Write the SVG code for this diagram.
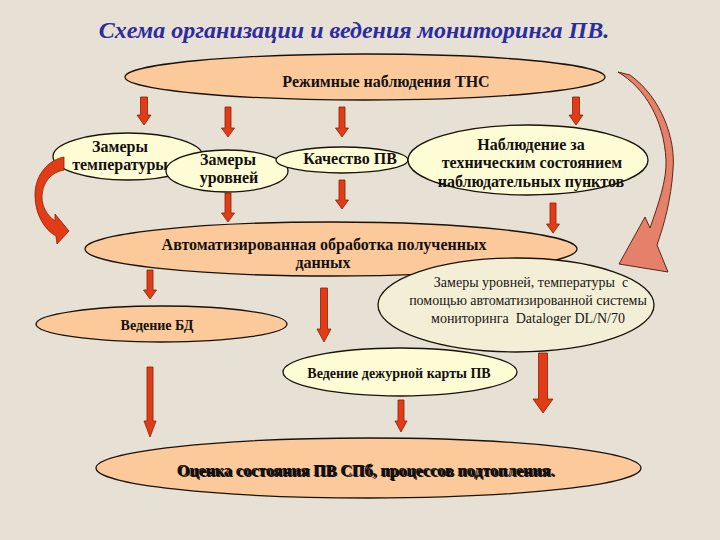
<svg xmlns="http://www.w3.org/2000/svg" width="720" height="540" viewBox="0 0 720 540">
<style>
.peach{fill:#fcc99a;stroke:#1a1208;stroke-width:1.3}
.yel{fill:#fdfcd4;stroke:#1a1208;stroke-width:1.3}
.beige{fill:#f3efd6;stroke:#1a1208;stroke-width:1.3}
.t{font-family:"Liberation Serif","Times New Roman",serif;font-weight:bold;font-size:16px;fill:#141010;text-anchor:middle}
.s{font-size:14px}
.r{font-family:"Liberation Serif","Times New Roman",serif;font-size:14px;fill:#1a1614;text-anchor:middle;white-space:pre}
.arr{fill:#e23c16;stroke:#8a2008;stroke-width:0.8}
</style>
<rect width="720" height="540" fill="#e7e0d5"/>
<text x="354" y="38" font-family="Liberation Serif, serif" font-weight="bold" font-style="italic" font-size="24" fill="#2c2ca0" text-anchor="middle">Схема организации и ведения мониторинга ПВ.</text>

<g id="n-rezhim"><ellipse class="peach" cx="365" cy="77" rx="240" ry="23"/><text class="t" x="386" y="87">Режимные наблюдения ТНС</text></g>
<g id="n-temp"><ellipse class="yel" cx="128" cy="156.5" rx="75" ry="23.5"/><text class="t" x="120" y="152">Замеры</text><text class="t" x="120" y="170">температуры</text></g>
<g id="n-urov"><ellipse class="yel" cx="227" cy="171" rx="61" ry="21"/><text class="t" x="228" y="165">Замеры</text><text class="t" x="229" y="183">уровней</text></g>
<g id="n-kach"><ellipse class="yel" cx="342" cy="160" rx="66" ry="13"/><text class="t" x="350" y="164">Качество ПВ</text></g>
<g id="n-nabl"><ellipse class="yel" cx="528" cy="160" rx="120" ry="35"/><text class="t" x="531" y="150">Наблюдение за</text><text class="t" x="532" y="168">техническим состоянием</text><text class="t" x="531" y="187">наблюдательных пунктов</text></g>
<g id="n-auto"><ellipse class="peach" cx="331" cy="249" rx="246" ry="27"/><text class="t" x="324" y="250">Автоматизированная обработка полученных</text><text class="t" x="323" y="268">данных</text></g>

<g id="connectors">
<path class="arr" d="M64,157 C48,160 35,175 35,195 C35,215 45,230 56,236 L57,244 L69,231 L55,214 L55,221 C47,215 42,207 42,197 C42,183 51,172 64,170 Z" fill="#d83010"/>
<path d="M618,72 L630,75 C662,98 676,140 673,170 C671,200 664,225 657,245 L668,272 L619,264 L645,217 L650,228 C658,205 667,180 666,160 C664,120 645,88 618,72 Z" fill="#e5806a" stroke="#4a1a0a" stroke-width="0.9"/>
<path class="arr" d="M140.5,97 H147.5 V115 H151 L144,125 L137,115 H140.5 Z"/>
<path class="arr" d="M225,107 H231 V128 H234.5 L228,137 L221.5,128 H225 Z"/>
<path class="arr" d="M339,107 H345 V128 H348.5 L342,137 L335.5,128 H339 Z"/>
<path class="arr" d="M572.5,97 H579.5 V115 H583 L576,125 L569,115 H572.5 Z"/>
<path class="arr" d="M225,193 H231 V213 H234.5 L228,222 L221.5,213 H225 Z"/>
<path class="arr" d="M339,180 H345 V200 H348.5 L342,209 L335.5,200 H339 Z"/>
<path class="arr" d="M550,203 H556 V224 H559.5 L553,233 L546.5,224 H550 Z"/>
<path class="arr" d="M147,270 H153 V290 H156.5 L150,299 L143.5,290 H147 Z"/>
<path class="arr" d="M320.5,288 H327.5 V329 H331 L324,342 L317,329 H320.5 Z"/>
<path class="arr" d="M147,367 H153 V421 H156 L150,437 L144,421 H147 Z"/>
<path class="arr" d="M398,400 H404 V421 H407 L401,432 L395,421 H398 Z"/>
<path class="arr" d="M538.5,353 H547.5 V399 H553 L543,413 L533,399 H538.5 Z"/>
</g>

<g id="n-datalog"><ellipse class="beige" cx="516" cy="305" rx="138" ry="47"/><text class="r" x="531" y="287">Замеры уровней, температуры  с</text><text class="r" x="528" y="305">помощью автоматизированной системы</text><text class="r" x="528" y="323">мониторинга  Dataloger DL/N/70</text></g>
<g id="n-bd"><ellipse class="peach" cx="161.5" cy="324" rx="125.5" ry="18"/><text class="t s" x="157" y="330">Ведение БД</text></g>
<g id="n-karta"><ellipse class="yel" cx="400" cy="372" rx="117" ry="24"/><text class="t s" x="399" y="378">Ведение дежурной карты ПВ</text></g>
<g id="n-ocenka"><ellipse class="peach" cx="368.5" cy="468" rx="272.5" ry="30"/><text class="t" x="367" y="477" font-size="17" fill="#2e9e58">Оценка состояния ПВ СПб, процессов подтопления.</text><text class="t" x="365.5" y="475.5" font-size="17" fill="#102818">Оценка состояния ПВ СПб, процессов подтопления.</text></g>
</svg>
